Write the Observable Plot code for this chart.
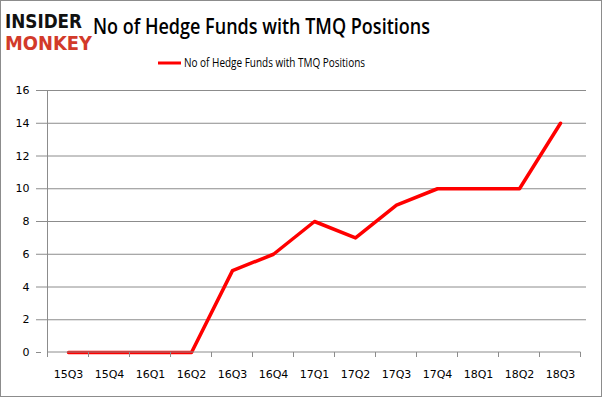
<!DOCTYPE html>
<html>
<head>
<meta charset="utf-8">
<script src="https://cdn.jsdelivr.net/npm/d3@7"></script>
<script src="https://cdn.jsdelivr.net/npm/@observablehq/plot@0.6"></script>
<style>
  body { margin: 0; background: #fff; }
  #chart svg { display: block; }
</style>
</head>
<body>
<div id="chart"></div>
<script>
const quarters = ["15Q3","15Q4","16Q1","16Q2","16Q3","16Q4","17Q1","17Q2","17Q3","17Q4","18Q1","18Q2","18Q3"];
const funds = [0,0,0,0,5,6,8,7,9,10,10,10,14];
const yTicks = [0,2,4,6,8,10,12,14,16];
const titleText = "No of Hedge Funds with TMQ Positions";
const seriesName = "No of Hedge Funds with TMQ Positions";

(function () {
const data = quarters.map((q, i) => ({q, v: funds[i]}));
const W = 603, H = 398;
const mL = 41, mR = 17, mT = 90, mB = 46;
const gridColor = "#8c8c8c";
const font = "'DejaVu Sans', sans-serif";

const chart = Plot.plot({
  width: W, height: H,
  marginLeft: mL, marginRight: mR, marginTop: mT, marginBottom: mB,
  style: {fontFamily: font, fontSize: "11px", color: "#000", background: "#fff"},
  x: {type: "point", domain: quarters, padding: 0.5, align: 0.5, label: null},
  y: {domain: [0, 16], label: null},
  marks: [
    Plot.ruleY(yTicks.filter(d => d > 0), {stroke: gridColor, strokeOpacity: 1}),
    Plot.axisY({ticks: yTicks, tickSize: 5, tickPadding: 7, stroke: gridColor, label: null, fontSize: 11, tickFormat: d => d}),
    Plot.axisX({tickSize: 0, tickPadding: 18, label: null, fontSize: 11}),
    Plot.line(data, {x: "q", y: "v", stroke: "#ff0000", strokeWidth: 3.5})
  ]
});

const svg = d3.select(chart);
const xs = chart.scale("x"), ys = chart.scale("y");
const step = (xs.apply(quarters[1]) - xs.apply(quarters[0]));
const y0 = ys.apply(0);
const xStart = xs.apply(quarters[0]) - step / 2;
const xEnd = xs.apply(quarters[quarters.length - 1]) + step / 2;
const yTop = ys.apply(16);

svg.append("line").attr("x1", xStart).attr("x2", xStart).attr("y1", yTop).attr("y2", y0).attr("stroke", gridColor);
svg.append("line").attr("x1", xStart).attr("x2", xEnd).attr("y1", y0).attr("y2", y0).attr("stroke", gridColor);
for (let i = 0; i <= quarters.length; i++) {
  const x = xStart + i * step;
  svg.append("line").attr("x1", x).attr("x2", x).attr("y1", y0).attr("y2", y0 + 5).attr("stroke", gridColor);
}
svg.append("rect").attr("x", 0.5).attr("y", 0.5).attr("width", W - 2).attr("height", H - 2)
  .attr("fill", "none").attr("stroke", "#8c8c8c");

const g = svg.append("g").attr("text-anchor", "start");
g.append("text").attr("x", 5).attr("y", 28).attr("textLength", 77).attr("lengthAdjust", "spacingAndGlyphs")
  .attr("font-family", font).attr("font-weight", 900).attr("font-size", 20).attr("fill", "#111").text("INSIDER");
g.append("text").attr("x", 5).attr("y", 50).attr("textLength", 87).attr("lengthAdjust", "spacingAndGlyphs")
  .attr("font-family", font).attr("font-weight", 900).attr("font-size", 20).attr("fill", "#d23a2a").text("MONKEY");

g.append("text").attr("x", 93).attr("y", 34).attr("textLength", 337).attr("lengthAdjust", "spacingAndGlyphs")
  .attr("font-family", "'Open Sans', sans-serif").attr("font-weight", 600).attr("font-size", 22).attr("fill", "#000").text(titleText);

g.append("line").attr("x1", 158).attr("x2", 181).attr("y1", 63).attr("y2", 63).attr("stroke", "#ff0000").attr("stroke-width", 3);
g.append("text").attr("x", 184).attr("y", 67).attr("textLength", 181).attr("lengthAdjust", "spacingAndGlyphs")
  .attr("font-family", "'Open Sans', sans-serif").attr("font-size", 12.5).attr("fill", "#000").text(seriesName);

document.getElementById("chart").appendChild(chart);
})();
</script>
</body>
</html>
